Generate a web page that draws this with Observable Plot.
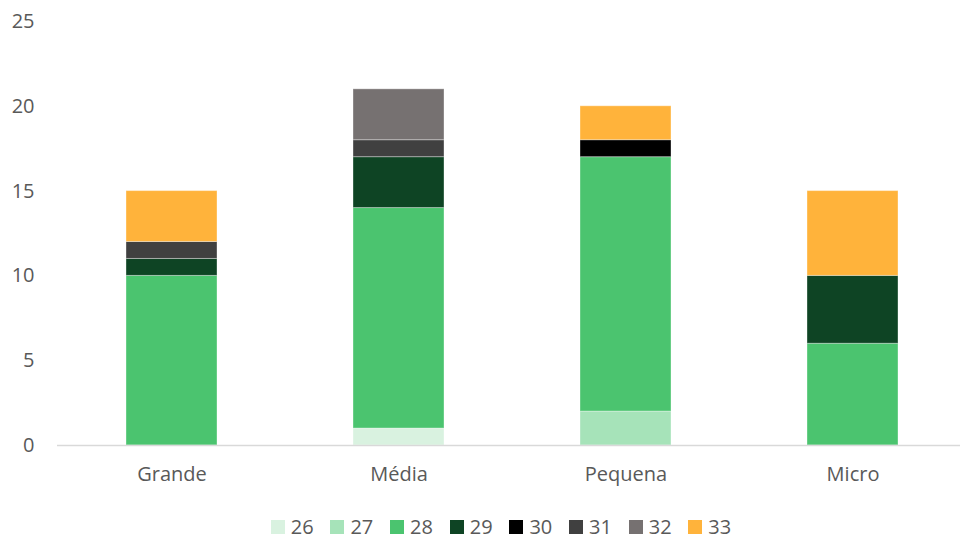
<!DOCTYPE html>
<html>
<head>
<meta charset="utf-8">
<script src="https://cdn.jsdelivr.net/npm/d3@7"></script>
<script src="https://cdn.jsdelivr.net/npm/@observablehq/plot@0.6"></script>
<style>
  html, body { margin: 0; padding: 0; background: #fff; overflow: hidden; }
  #chart { width: 960px; height: 541px; position: relative; font-family: "Open Sans", Lato, sans-serif; }
  #legend { position: absolute; left: 0; top: 513px; width: 960px; box-sizing: border-box; padding-left: 42px; display: flex; justify-content: center; align-items: center; font-size: 20px; color: #595959; line-height: normal; }
  #legend .item { display: inline-flex; align-items: center; margin: 0 8.4px; }
  #legend .sw { width: 14px; height: 14px; display: inline-block; margin-right: 6px; }
</style>
</head>
<body>
<div id="chart"></div>
<script>
const categories = ["Grande", "Média", "Pequena", "Micro"];
const series = ["26", "27", "28", "29", "30", "31", "32", "33"];
const colors = ["#d9f2e0", "#a6e3b9", "#4bc46f", "#0e4424", "#000000", "#404040", "#767171", "#ffb33b"];
// values per series, in category order
const v26 = [0, 1, 0, 0];
const v27 = [0, 0, 2, 0];
const v28 = [10, 13, 15, 6];
const v29 = [1, 3, 0, 4];
const v30 = [0, 0, 1, 0];
const v31 = [1, 1, 0, 0];
const v32 = [0, 3, 0, 0];
const v33 = [3, 0, 2, 5];
const yTicks = [0, 5, 10, 15, 20, 25];

const seriesValues = [v26, v27, v28, v29, v30, v31, v32, v33];
const data = [];
series.forEach((s, i) => categories.forEach((c, j) => {
  if (seriesValues[i][j] > 0) data.push({category: c, series: s, value: seriesValues[i][j]});
}));

const font = "'Open Sans', Lato, sans-serif";
const plot = Plot.plot({
  width: 960,
  height: 505,
  marginLeft: 57,
  marginRight: 0,
  marginTop: 21,
  marginBottom: 60,
  style: {fontFamily: font, fontSize: "19px", color: "#595959", background: "#fff"},
  x: {domain: categories, range: [56, 967.6], paddingInner: 0.6, paddingOuter: 0.3, label: null},
  y: {domain: [0, 25], label: null},
  color: {domain: series, range: colors},
  marks: [
    Plot.barY(data, Plot.stackY({x: "category", y: "value", fill: "series", order: series, stroke: "#ffffff", strokeOpacity: 0.35, strokeWidth: 1})),
    Plot.ruleY([0], {stroke: "#d9d9d9", strokeWidth: 1.5}),
    Plot.axisY({ticks: yTicks, tickSize: 0, tickPadding: 0, dx: -23, textAnchor: "end", fill: "#595959", fontSize: 20, label: null}),
    Plot.axisX({tickSize: 0, tickPadding: 21, fill: "#595959", fontSize: 20, label: null})
  ]
});
document.getElementById("chart").appendChild(plot);

const lg = document.createElement("div");
lg.id = "legend";
const color = plot.scale("color");
series.forEach((s) => {
  const item = document.createElement("span");
  item.className = "item";
  const sw = document.createElement("span");
  sw.className = "sw";
  sw.style.background = color.apply(s);
  item.appendChild(sw);
  item.appendChild(document.createTextNode(s));
  lg.appendChild(item);
});
document.getElementById("chart").appendChild(lg);
</script>
</body>
</html>
